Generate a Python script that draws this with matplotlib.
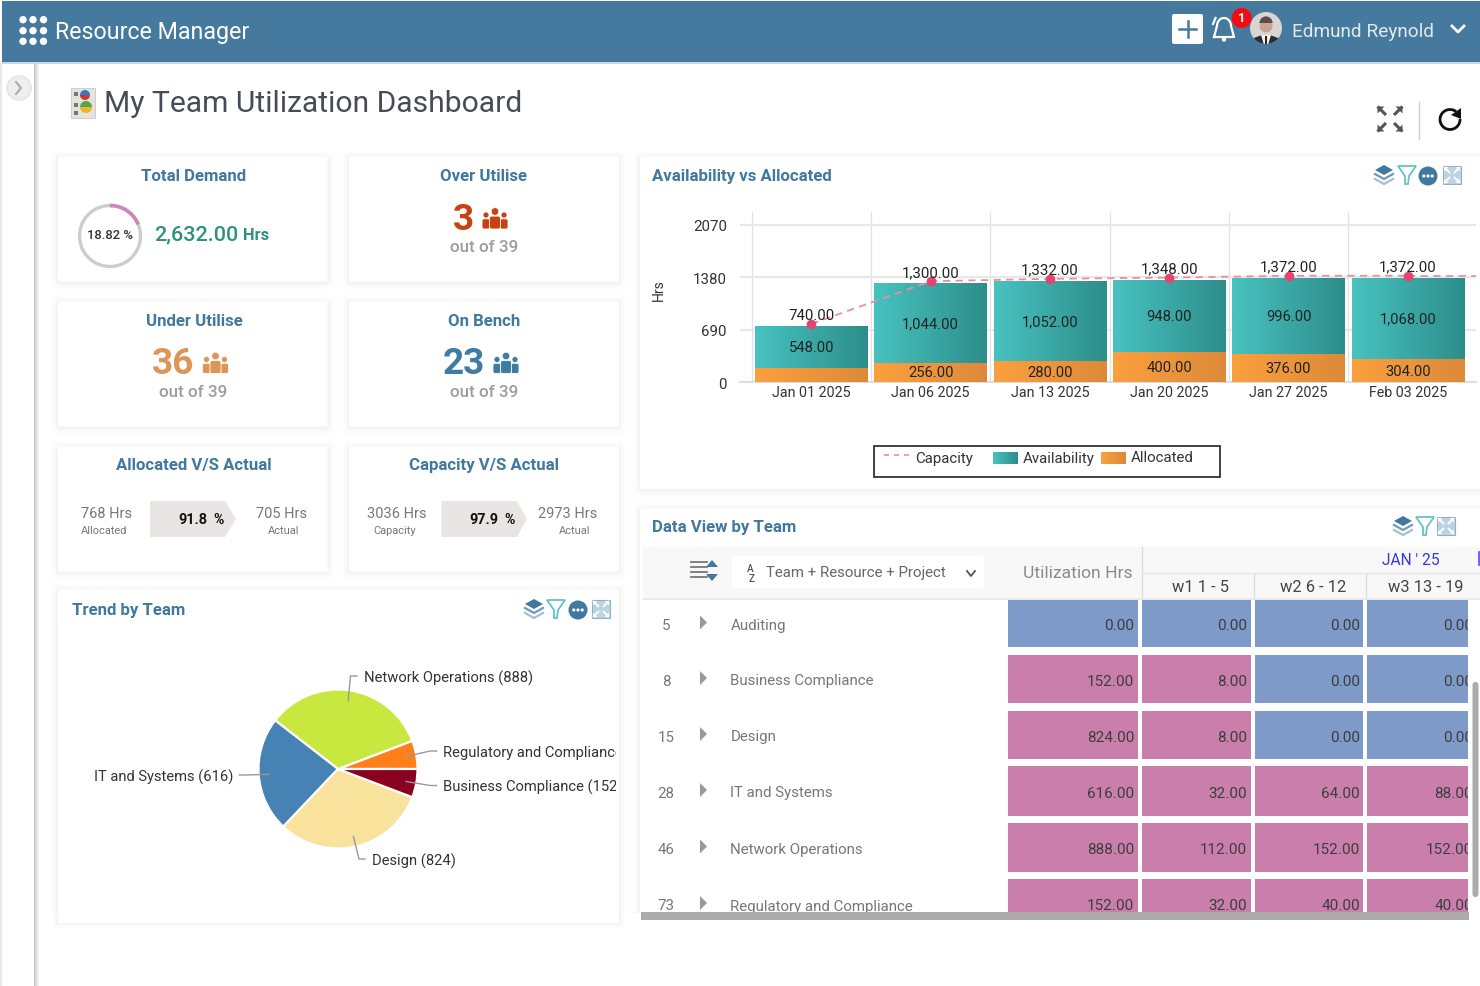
import numpy as np
import matplotlib
matplotlib.use("Agg")
import matplotlib.pyplot as plt
from matplotlib.patches import Rectangle, FancyBboxPatch, Circle, Polygon, Wedge
from matplotlib.transforms import offset_copy, Bbox, TransformedBbox

# availability vs allocated
weeks = ["Jan 01 2025", "Jan 06 2025", "Jan 13 2025", "Jan 20 2025", "Jan 27 2025", "Feb 03 2025"]
allocated = [192, 256, 280, 400, 376, 304]
availability = [548, 1044, 1052, 948, 996, 1068]
capacity = [740, 1300, 1332, 1348, 1372, 1372]
y_ticks = [0, 690, 1380, 2070]

# trend by team
pie_names = ["Regulatory and Compliance", "Network Operations", "IT and Systems", "Design", "Business Compliance"]
pie_values = [152, 888, 616, 824, 152]
pie_colors = ["#FF7F1A", "#C8E83F", "#4682B4", "#F9E29C", "#8B0020"]

# data view by team
row_index = [5, 8, 15, 28, 46, 73]
row_names = ["Auditing", "Business Compliance", "Design", "IT and Systems", "Network Operations", "Regulatory and Compliance"]
util_hrs = [0, 152, 824, 616, 888, 152]
w1_hrs = [0, 8, 8, 32, 112, 32]
w2_hrs = [0, 0, 0, 64, 152, 40]
w3_hrs = [0, 0, 0, 88, 152, 40]
week_heads = ["w1 1 - 5", "w2 6 - 12", "w3 13 - 19"]

BLUE = "#41789F"
HEAD = "#45799D"
FONT = "Roboto"
plt.rcParams["font.family"] = [FONT, "DejaVu Sans"]

W, H = 1480, 987
fig = plt.figure(figsize=(W / 100, H / 100), dpi=100, facecolor="white")
page = fig.add_axes([0, 0, 1, 1])
page.set_xlim(0, W)
page.set_ylim(H, 0)
page.axis("off")


def px_axes(left, top, right, bottom):
    ax = fig.add_axes([left / W, 1 - bottom / H, (right - left) / W, (bottom - top) / H])
    ax.patch.set_alpha(0)
    return ax


def pt(px):
    return px * 0.72


def label(x, y, s, px=14, color="#444444", ha="left", weight="normal", **kw):
    # roboto sits a bit high with va=center
    return page.text(x, y + 1.5, s, fontsize=pt(px), color=color, ha=ha, va="center", fontweight=weight, **kw)


def card(x0, y0, x1, y1):
    for grow, alpha in [(7, 0.006), (5, 0.008), (3, 0.012), (1.5, 0.018)]:
        page.add_patch(FancyBboxPatch((x0 - grow, y0 - grow + 1), x1 - x0 + 2 * grow, y1 - y0 + 2 * grow,
                                      boxstyle="round,pad=0,rounding_size=4", fc="black", ec="none", alpha=alpha))
    page.add_patch(FancyBboxPatch((x0, y0), x1 - x0, y1 - y0, boxstyle="round,pad=0,rounding_size=2", fc="white", ec="none"))


def layers_icon(cx, cy):
    page.add_patch(Polygon([(cx - 9, cy - 5), (cx, cy - 10), (cx + 9, cy - 5), (cx, cy)], fc=BLUE, ec="none"))
    for dy, c in [(0, "#6D9AB8"), (5, "#A3C0D3")]:
        page.plot([cx - 9, cx, cx + 9], [cy - 1 + dy, cy + 4 + dy, cy - 1 + dy], color=c, lw=1.6)


def filter_icon(cx, cy):
    page.add_patch(Polygon([(cx - 9, cy - 9), (cx + 9, cy - 9), (cx + 2, cy + 1), (cx + 1, cy + 9), (cx - 2, cy + 9), (cx - 2, cy + 1)],
                           fc="none", ec="#62C4CB", lw=1.3))


def dots_icon(cx, cy):
    page.add_patch(Circle((cx, cy), 9.5, fc=BLUE, ec="none"))
    for dx in (-4.2, 0, 4.2):
        page.add_patch(Circle((cx + dx, cy), 1.6, fc="white", ec="none"))


def arrows(cx, cy, near, far, color, lw=1.4, head=4.5):
    for sx in (-1, 1):
        for sy in (-1, 1):
            page.plot([cx + sx * near, cx + sx * far], [cy + sy * near, cy + sy * far], color=color, lw=lw, solid_capstyle="butt")
            page.add_patch(Polygon([(cx + sx * far, cy + sy * far), (cx + sx * (far - head), cy + sy * far), (cx + sx * far, cy + sy * (far - head))],
                                   fc=color, ec="none"))


def expand_icon(cx, cy):
    page.add_patch(Rectangle((cx - 9, cy - 9), 18, 18, fc="#BDD3E1", ec="#8FB2C9", lw=0.8))
    arrows(cx, cy, 2, 8, "white")


def group_icon(cx, cy, color):
    for dx, dy, r, bw, bh in [(-9, -3.5, 3, 8, 11), (9, -3.5, 3, 8, 11), (0, -7, 3.8, 11, 15)]:
        page.add_patch(Circle((cx + dx, cy + dy), r, fc=color, ec="white", lw=0.5))
        top = cy + dy + r + 0.8
        page.add_patch(FancyBboxPatch((cx + dx - bw / 2, top), bw, cy + 10.5 - top, boxstyle="round,pad=0,rounding_size=2",
                                      fc=color, ec="white", lw=0.6))


def arrow_box(x0, x1, y0, y1, tip):
    page.add_patch(Polygon([(x0, y0), (tip, y0), (x1, (y0 + y1) / 2), (tip, y1), (x0, y1)], fc="#E9E5E5", ec="none"))


# top bar and side rail
page.add_patch(Rectangle((2, 2), W, 61, fc=HEAD, ec="none"))
page.add_patch(Rectangle((2, 63), W, 1.5, fc="#C9D8E2", ec="none"))
for y in (20.7, 31.7, 42.3):
    for x in (23, 33, 43.5):
        page.add_patch(Circle((x, y), 3.7, fc="white", ec="none"))
label(55, 31, "Resource Manager", 23.3, "white")
page.add_patch(FancyBboxPatch((1172, 15), 31, 30, boxstyle="round,pad=0,rounding_size=2", fc="white", ec="none"))
page.plot([1187.5, 1187.5], [22, 38], color=HEAD, lw=1.8)
page.plot([1179, 1196], [30, 30], color=HEAD, lw=1.8)
# bell
bell_t = np.linspace(np.pi, 0, 30)
bx = list(1224 + 7 * np.cos(bell_t))
by = list(27 + 8 * -np.sin(bell_t))
page.plot([1214] + bx + [1234, 1214], [38] + by + [38, 38], color="white", lw=1.6)
page.add_patch(Circle((1224, 40.5), 2.2, fc="white", ec="none"))
page.plot([1213, 1215.5], [25, 19], color="white", lw=1.6)
page.add_patch(Circle((1241.7, 19), 10, fc="#F40B12", ec="none"))
label(1241.7, 17.5, "1", 13, "white", ha="center", weight="bold")
# avatar
av = Circle((1266, 29), 16, fc="#D8D5D2", ec="none")
page.add_patch(av)
suit = Polygon([(1251, 46), (1254, 39), (1262, 36), (1270, 36), (1278, 39), (1281, 46)], fc="#2A2A30", ec="none")
page.add_patch(suit)
suit.set_clip_path(av)
shirt = Polygon([(1261, 36), (1271, 36), (1268, 46), (1264, 46)], fc="#F2F2F2", ec="none")
page.add_patch(shirt)
shirt.set_clip_path(av)
page.add_patch(Rectangle((1265, 37), 2.2, 8, fc="#222222", ec="none"))
page.add_patch(Circle((1266, 27), 6.5, fc="#C9A392", ec="none"))
page.add_patch(Wedge((1266, 24), 6.6, 180, 360, fc="#5A4E4A", ec="none"))
label(1292, 30.5, "Edmund Reynold", 19, "#E2EAF0")
page.plot([1452, 1458, 1464], [27, 33, 27], color="white", lw=2)

page.add_patch(Rectangle((0, 64), 2, H, fc="#E8E8E8", ec="none"))
rail_alpha = [0.5, 0.42, 0.32, 0.2, 0.1, 0.04]
for i, a in enumerate(rail_alpha):
    page.add_patch(Rectangle((34 + i, 65), 1, H, fc="#999999", ec="none", alpha=a))
page.add_patch(Circle((19, 89), 12, fc="#EFEFEF", ec="#E2E2E2", lw=1))
page.plot([16, 21, 16], [83, 89, 95], color="#AAAAAA", lw=1.5)

# page title
page.add_patch(Rectangle((71, 89), 24, 30, fc="#E6E3DC", ec="#CFCFCF", lw=0.8))
for cx, cy, r, cs in [(85, 96, 5, ["#D9342B", "#2E7BC4"]), (86, 108, 6, ["#F0B429", "#4FA84F"])]:
    page.add_patch(Wedge((cx, cy), r, 0, 180, fc=cs[0], ec="none"))
    page.add_patch(Wedge((cx, cy), r, 180, 360, fc=cs[1], ec="none"))
for y in (93, 104, 112):
    page.add_patch(Rectangle((74, y), 3.5, 3.5, fc="#777777", ec="none"))
label(104, 102.5, "My Team Utilization Dashboard", 30, "#454C55")
arrows(1390, 120, 4, 12.5, "#555555", lw=2.2, head=7)
page.plot([1419, 1419], [103, 140], color="#CCCCCC", lw=1)
t = np.radians(np.linspace(5, 300, 40))
page.plot(1450 + 10 * np.cos(t), 120.5 + 10 * np.sin(t), color="#111111", lw=2)
page.add_patch(Polygon([(1461, 109), (1461, 120), (1451, 116)], fc="#111111", ec="none"))

# small cards
for x0, x1 in [(58, 327.5), (349, 619)]:
    for y0, y1 in [(157.5, 282.5), (302.5, 427.5), (447.5, 572.5)]:
        card(x0, y0, x1, y1)
card(58, 590.5, 619, 923.5)
card(640, 157.5, 1484, 490)
card(640, 509.5, 1484, 921)

for x, y, s in [(194, 175, "Total Demand"), (484, 175, "Over Utilise"), (194, 320, "Under Utilise"),
                (484, 320, "On Bench"), (194, 464, "Allocated V/S Actual"), (484, 464, "Capacity V/S Actual")]:
    label(x, y, s, 16.7, BLUE, ha="center", weight="bold")

# total demand ring
ring_pct = 18.82
ring_t = np.linspace(0, 2 * np.pi, 200)
page.plot(110 + 30.5 * np.sin(ring_t), 237 - 30.5 * np.cos(ring_t), color="#CDCDCD", lw=2.4)
ring_t = np.linspace(0, 2 * np.pi * ring_pct / 100, 40)
page.plot(110 + 30.5 * np.sin(ring_t), 237 - 30.5 * np.cos(ring_t), color="#CE86B8", lw=2.6, solid_capstyle="butt")
label(110, 234, "18.82 %", 13, "#333333", ha="center", weight="medium")
label(154, 233, "2,632.00", 21.5, "#2B9080", weight="medium")
label(243, 234, "Hrs", 16.5, "#2B9080", weight="bold")

for x, y, s, c, ix, iy in [(463.5, 218, "3", "#C8420F", 495, 219.5), (173, 363, "36", "#DE9658", 215.5, 364),
                           (464, 363, "23", "#3F7CA0", 506, 364)]:
    label(x, y, s, 37, c, ha="center", weight="bold")
    group_icon(ix, iy, c)
for x, y in [(484, 246), (193, 391), (484, 391)]:
    label(x, y, "out of 39", 17, "#9C9C9C", ha="center", weight="medium")

arrow_box(150, 236, 502, 538, 225)
arrow_box(441.5, 527, 502, 538, 517)
label(193, 518.5, "91.8", 14.5, "#111111", ha="center", weight="bold")
label(219, 519, "%", 14, "#111111", ha="center", weight="bold")
label(483.5, 518.5, "97.9", 14.5, "#111111", ha="center", weight="bold")
label(510, 519, "%", 14, "#111111", ha="center", weight="bold")
label(81, 513, "768 Hrs", 14.5, "#777777")
label(81, 530, "Allocated", 11, "#777777")
label(281, 513, "705 Hrs", 14.5, "#777777", ha="center")
label(284, 530, "Actual", 11, "#777777", ha="center")
label(397, 513, "3036 Hrs", 14.5, "#777777", ha="center")
label(395, 530, "Capacity", 11, "#777777", ha="center")
label(567.5, 513, "2973 Hrs", 14.5, "#777777", ha="center")
label(574.5, 530, "Actual", 11, "#777777", ha="center")

# panel headers
label(652, 175, "Availability vs Allocated", 16.7, BLUE, weight="bold")
label(652, 526, "Data View by Team", 16.7, BLUE, weight="bold")
label(72, 609, "Trend by Team", 16.7, BLUE, weight="bold")
layers_icon(1384, 176)
filter_icon(1407, 176)
dots_icon(1428, 177)
expand_icon(1452, 176)
layers_icon(534, 610)
filter_icon(556, 610)
dots_icon(578, 611)
expand_icon(601, 610)
layers_icon(1403, 527)
filter_icon(1425, 527)
expand_icon(1446, 527)

# stacked bars
ax = px_axes(740, 212.7, 1476, 383.2)
pos = np.arange(len(weeks))
alloc_bars = ax.bar(pos, allocated, width=0.945, color="#EC933B", zorder=3)
avail_bars = ax.bar(pos, availability, width=0.945, bottom=allocated, color="#38A5A3", zorder=3)


def shade(bars, left, right):
    grad = np.linspace(0, 1, 64).reshape(1, -1)
    cmap = matplotlib.colors.LinearSegmentedColormap.from_list("g", [left, right])
    for b in bars:
        im = ax.imshow(grad, extent=[b.get_x(), b.get_x() + b.get_width(), b.get_y(), b.get_y() + b.get_height()],
                       cmap=cmap, aspect="auto", zorder=3.1)
        im.set_clip_path(b)


shade(alloc_bars, "#FBA03E", "#DC8A3A")
shade(avail_bars, "#48C2C0", "#2D8E8B")

xlim = ((740 - 811.4) / 119.3, (1476 - 811.4) / 119.3)
lifted = offset_copy(ax.transData, fig=fig, y=2, units="dots")
ax.plot(pos, capacity, color="#EC8CA4", lw=1.3, ls=(0, (4, 3)), transform=lifted, zorder=4)
ax.plot([pos[-1], xlim[1]], [capacity[-1], capacity[-1]], color="#EC8CA4", lw=1.3, ls=(0, (4, 3)), transform=lifted, zorder=4)
ax.plot(pos, capacity, "o", color="#E2466E", ms=7, mec="none", transform=lifted, zorder=5)
for x, v in zip(pos, capacity):
    ax.annotate(f"{v:,.2f}", (x, v), xytext=(0, 8), textcoords="offset points", ha="center", va="center",
                fontsize=pt(15), color="#222222", zorder=6)
ax.bar_label(avail_bars, labels=[f"{v:,.2f}" for v in availability], label_type="center", fontsize=pt(14.8), color="#222222", zorder=6)
ax.bar_label(alloc_bars, labels=[""] + [f"{v:,.2f}" for v in allocated[1:]], label_type="center", fontsize=pt(14.8), color="#222222", zorder=6)

ax.set_xlim(*xlim)
ax.set_ylim(0, 2240)
ax.set_yticks(y_ticks)
ax.set_xticks(pos)
ax.set_xticklabels(weeks)
ax.set_xticks(pos[:] - 0.5, minor=True)
ax.tick_params(axis="both", which="both", length=0)
ax.tick_params(axis="x", labelsize=pt(14.3), labelcolor="#333333", pad=2)
ax.tick_params(axis="y", labelsize=pt(15), labelcolor="#333333", pad=9.5)
for l in ax.get_yticklabels():
    l.set_va("center_baseline")
ax.grid(axis="y", color="#E8E8E8", lw=1.6, zorder=0)
ax.grid(axis="x", which="minor", color="#E2E2E2", lw=0.9, zorder=0)
for s in ax.spines.values():
    s.set_visible(False)
ax.spines["bottom"].set_visible(True)
ax.spines["bottom"].set_color("#DDDDDD")
ax.spines["bottom"].set_linewidth(1.4)
label(659, 289, "Hrs", 14, "#333333", ha="center", rotation=90)

# legend, it is top heavy in the original so done by hand
page.add_patch(Rectangle((874, 446.5), 346, 31.5, fc="white", ec="#333333", lw=1.3))
page.plot([884, 909], [456, 456], color="#EC8CA4", lw=1.2, ls=(0, (3, 3)))
label(915.5, 457, "Capacity", 15, "#333333")
for x0, c0, c1, s, tx in [(992.5, "#48C2C0", "#2D8E8B", "Availability", 1023), (1100.5, "#FBA03E", "#DC8A3A", "Allocated", 1131)]:
    cmap = matplotlib.colors.LinearSegmentedColormap.from_list("g", [c0, c1])
    page.imshow(np.linspace(0, 1, 32).reshape(1, -1), extent=[x0, x0 + 25, 465, 453], cmap=cmap, aspect="auto", zorder=2)
    label(tx, 457, s, 15, "#333333")
page.set_xlim(0, W)
page.set_ylim(H, 0)

# pie
R = 79.5
pie_l, pie_t, pie_r, pie_b = 62, 630, 616, 915
pa = px_axes(pie_l, pie_t, pie_r, pie_b)
wedges, _ = pa.pie(pie_values, colors=pie_colors, startangle=0, counterclock=True, radius=1,
                   wedgeprops=dict(edgecolor="white", linewidth=1.6))
pa.set_xlim((pie_l - 338) / R, (pie_r - 338) / R)
pa.set_ylim((770 - pie_b) / R, (770 - pie_t) / R)
pa.set_aspect("equal")
# elbow of each connector, in px away from the pie centre
elbows = [[(92, 18), (98.6, 18)], [(12.5, 93), (19, 93)], [(-92, -6), (-98.6, -6)], [(21, -90), (27, -90)], [(92, -16.5), (98.6, -16.5)]]
for w, name, v, el in zip(wedges, pie_names, pie_values, elbows):
    mid = np.radians((w.theta1 + w.theta2) / 2)
    xs = [0.87 * np.cos(mid)] + [e[0] / R for e in el]
    ys = [0.87 * np.sin(mid)] + [e[1] / R for e in el]
    pa.plot(xs, ys, color="#999999", lw=1)
    ha = "right" if el[1][0] < 0 else "left"
    shift = 6.5 / R if ha == "left" else -6.5 / R
    pa.text(xs[-1] + shift, ys[-1] - 1 / R, f"{name} ({v})", fontsize=pt(14.7), color="#333333", ha=ha, va="center", clip_on=True)

# table head
page.add_patch(Rectangle((643, 548), W, 52, fc="#F8F8F8", ec="none"))
page.add_patch(FancyBboxPatch((732, 557), 252, 32, boxstyle="round,pad=0,rounding_size=5", fc="white", ec="none"))
for y, x1 in [(563, 707), (568, 707), (573, 707), (578, 707)]:
    page.plot([691, x1], [y, y], color="#777777", lw=1.3)
page.add_patch(Polygon([(706, 568), (718, 568), (712, 561)], fc=BLUE, ec="none"))
page.add_patch(Polygon([(706, 575), (718, 575), (712, 582)], fc=BLUE, ec="none"))
label(750, 567, "A", 10, "#555555", ha="center", weight="medium")
label(752, 577, "Z", 10, "#555555", ha="center", weight="medium")
label(765.5, 572, "Team + Resource + Project", 15, "#666666")
page.plot([967, 971, 975], [572, 577, 572], color="#555555", lw=1.3)
label(1133, 572, "Utilization Hrs", 17.5, "#8A8A8A", ha="right")
page.plot([1141.5, 1141.5], [548, 600], color="#DDDDDD", lw=1)
page.plot([1142, W], [574, 574], color="#E8E8E8", lw=1)
page.plot([1254, 1254], [574, 600], color="#DDDDDD", lw=1)
page.plot([1366, 1366], [574, 600], color="#DDDDDD", lw=1)
page.plot([1478.5, 1478.5], [553, 566], color="#6A3DF0", lw=1.2)
label(1411, 559, "JAN ' 25", 15.5, "#3535E0", ha="center")
for cx, s in zip([1200, 1313, 1426], week_heads):
    label(cx, 586, s, 16.5, "#444444", ha="center")
page.plot([643, W], [600, 600], color="#E6E6E6", lw=1.2)

# table rows
row_top = [601, 656, 712, 767, 824, 880]
row_bot = [648, 704, 760, 817, 873, 930]
col_x = [(1008, 1138), (1142, 1251), (1255, 1363), (1367, 1468)]
col_right = [1134.5, 1247, 1360, 1473]
columns = [util_hrs, w1_hrs, w2_hrs, w3_hrs]
cell_clip = TransformedBbox(Bbox([[1000, 590], [1468, 935]]), page.transData)
for i, name in enumerate(row_names):
    mid = (row_top[i] + row_bot[i]) / 2
    if i == 5:
        mid = 905
    label(666, mid, str(row_index[i]), 15, "#777777", ha="center")
    page.add_patch(Polygon([(700, mid - 8), (707, mid - 1), (700, mid + 6)], fc="#999999", ec="none"))
    label(730.5, mid, name, 15, "#777777")
    for (x0, x1), right, col in zip(col_x, col_right, columns):
        v = col[i]
        page.add_patch(Rectangle((x0, row_top[i]), x1 - x0, row_bot[i] - row_top[i], fc="#C97EAC" if v > 0 else "#7E9AC8", ec="none"))
        txt = label(right, mid, f"{v:.2f}", 15.2, "#3E3E3E", ha="right")
        txt.set_clip_box(cell_clip)
        txt.set_clip_on(True)

# scrollbars and what sits below the table
page.add_patch(Rectangle((0, 914), W, 80, fc="white", ec="none", zorder=5))
page.add_patch(Rectangle((641, 913), 828, 8, fc="#ABABAB", ec="none", zorder=6))
for grow, alpha in [(5, 0.01), (3, 0.015), (1.5, 0.02)]:
    page.add_patch(Rectangle((58 - grow, 914), 561 + 2 * grow, 9.5 + grow, fc="black", ec="none", alpha=alpha, zorder=5.2))
page.add_patch(Rectangle((58, 914), 561, 9.5, fc="white", ec="none", zorder=5.5))
for i, a in enumerate(rail_alpha):
    page.add_patch(Rectangle((34 + i, 914), 1, 80, fc="#999999", ec="none", alpha=a, zorder=5.5))
page.add_patch(Rectangle((0, 914), 2, 80, fc="#E8E8E8", ec="none", zorder=5.5))
page.add_patch(FancyBboxPatch((1472.5, 683), 6, 215, boxstyle="round,pad=0,rounding_size=3", fc="#ABABAB", ec="none", zorder=6))

fig.savefig("out.png", dpi=100)
